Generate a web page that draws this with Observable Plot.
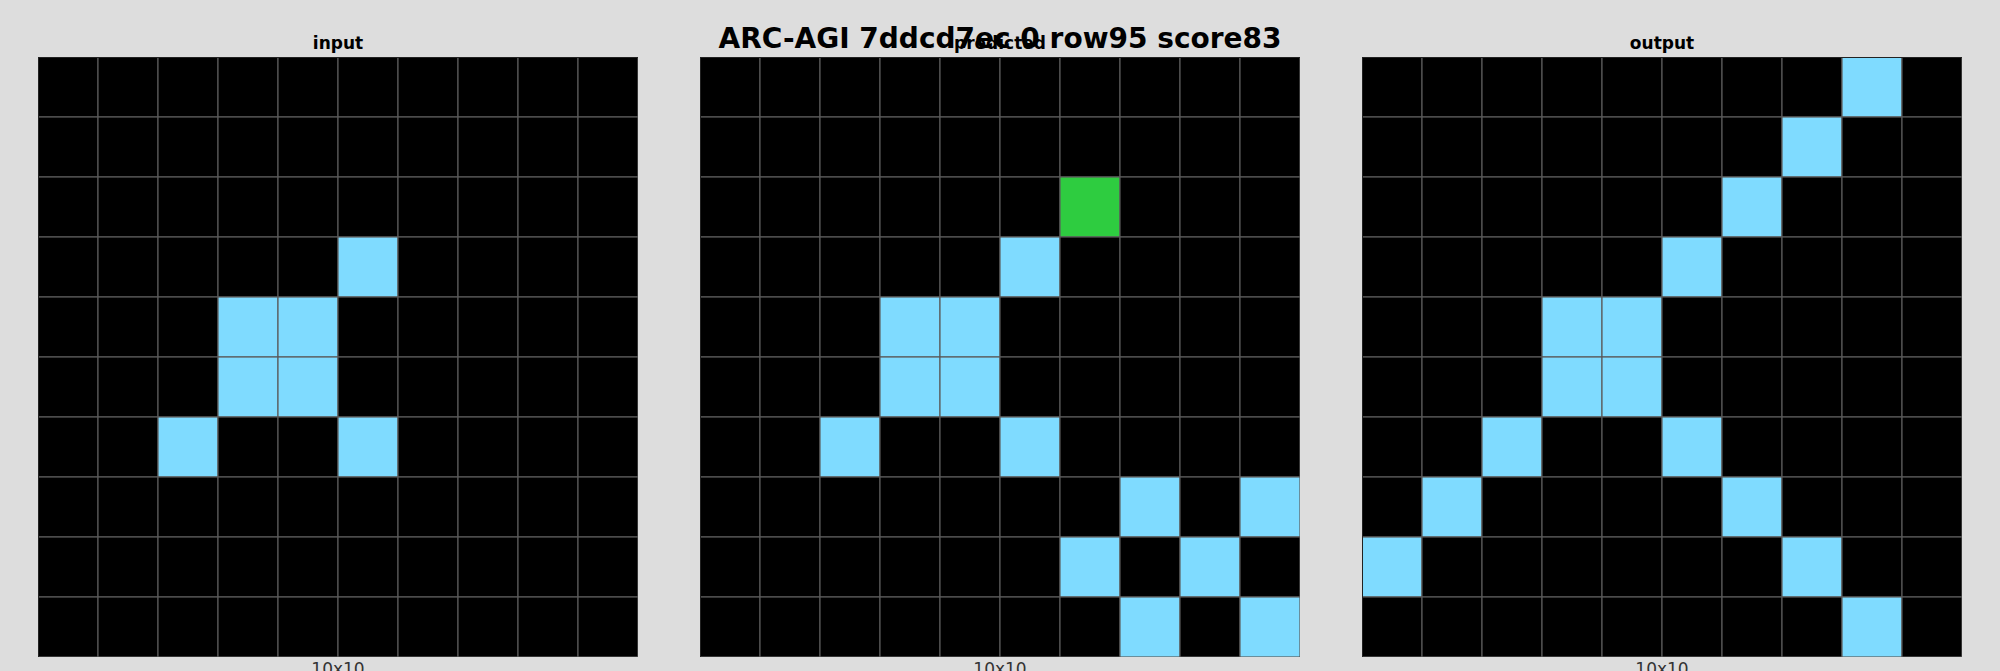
<!DOCTYPE html>
<html><head><meta charset="utf-8">
<script src="https://cdn.jsdelivr.net/npm/d3@7"></script>
<script src="https://cdn.jsdelivr.net/npm/@observablehq/plot@0.6"></script>
<style>
body{margin:0;background:#dddddd;font-family:"DejaVu Sans",sans-serif}
#wrap{position:relative;width:2000px;height:671px;overflow:hidden;background:#dddddd}
.p{position:absolute;top:57px}
.t{position:absolute;font-weight:bold;font-size:17px;text-align:center;width:600px;top:33px}
.s{position:absolute;font-size:17px;color:#333;text-align:center;width:600px;top:659px}
#title{position:absolute;top:22px;left:0;width:2000px;text-align:center;font-size:28px;font-weight:bold}
</style></head>
<body><div id="wrap"></div>
<script>
// ARC grids, 0 = black, 8 = light blue, 3 = green
const inputGrid = [
  [0,0,0,0,0,0,0,0,0,0],
  [0,0,0,0,0,0,0,0,0,0],
  [0,0,0,0,0,0,0,0,0,0],
  [0,0,0,0,0,8,0,0,0,0],
  [0,0,0,8,8,0,0,0,0,0],
  [0,0,0,8,8,0,0,0,0,0],
  [0,0,8,0,0,8,0,0,0,0],
  [0,0,0,0,0,0,0,0,0,0],
  [0,0,0,0,0,0,0,0,0,0],
  [0,0,0,0,0,0,0,0,0,0]
]
const predictedGrid = [
  [0,0,0,0,0,0,0,0,0,0],
  [0,0,0,0,0,0,0,0,0,0],
  [0,0,0,0,0,0,3,0,0,0],
  [0,0,0,0,0,8,0,0,0,0],
  [0,0,0,8,8,0,0,0,0,0],
  [0,0,0,8,8,0,0,0,0,0],
  [0,0,8,0,0,8,0,0,0,0],
  [0,0,0,0,0,0,0,8,0,8],
  [0,0,0,0,0,0,8,0,8,0],
  [0,0,0,0,0,0,0,8,0,8]
]
const outputGrid = [
  [0,0,0,0,0,0,0,0,8,0],
  [0,0,0,0,0,0,0,8,0,0],
  [0,0,0,0,0,0,8,0,0,0],
  [0,0,0,0,0,8,0,0,0,0],
  [0,0,0,8,8,0,0,0,0,0],
  [0,0,0,8,8,0,0,0,0,0],
  [0,0,8,0,0,8,0,0,0,0],
  [0,8,0,0,0,0,8,0,0,0],
  [8,0,0,0,0,0,0,8,0,0],
  [0,0,0,0,0,0,0,0,8,0]
]
const panelNames = ['input', 'predicted', 'output']
const panelLeft = [38, 700, 1362]
const palette = {0: '#000000', 3: '#2ecc40', 8: '#7fdbff'}

const wrap = d3.select('#wrap')
;[inputGrid, predictedGrid, outputGrid].forEach((grid, i) => {
  const cells = grid.flatMap((row, r) => row.map((v, c) => ({r, c, v})))
  const chart = Plot.plot({
    width: 600,
    height: 600,
    margin: 0,
    x: {type: 'band', domain: d3.range(10), padding: 0, axis: null},
    y: {type: 'band', domain: d3.range(10), padding: 0, axis: null},
    marks: [
      Plot.cell(cells, {x: 'c', y: 'r', fill: d => palette[d.v], stroke: '#5a5a5a', strokeWidth: 1.2}),
      Plot.frame({stroke: '#222'})
    ],
    style: {background: 'transparent'}
  })
  wrap.append('div').attr('class', 'p').style('left', panelLeft[i] + 'px').append(() => chart)
  wrap.append('div').attr('class', 't').style('left', panelLeft[i] + 'px').text(panelNames[i])
  wrap.append('div').attr('class', 's').style('left', panelLeft[i] + 'px').text('10x10')
})
wrap.append('div').attr('id', 'title').text('ARC-AGI 7ddcd7ec 0 row95 score83')
</script></body></html>
